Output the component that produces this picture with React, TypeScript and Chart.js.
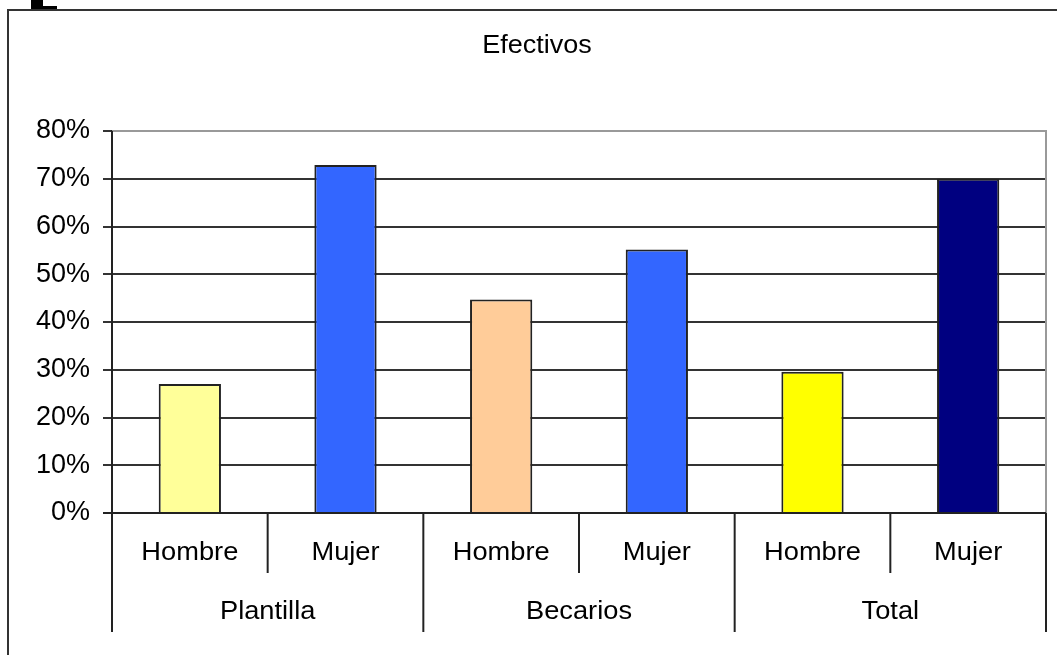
import React, { useEffect, useRef } from "react";
import { Chart, registerables } from "chart.js";

Chart.register(...registerables);

const title = "Efectivos";
const subCategories = ["Hombre", "Mujer", "Hombre", "Mujer", "Hombre", "Mujer"];
const groups = ["Plantilla", "Becarios", "Total"];
const values = [27.0, 72.9, 44.7, 55.2, 29.6, 70.0];
const barColors = ["#FFFF99", "#3366FF", "#FFCC99", "#3366FF", "#FFFF00", "#000080"];
const yTicks = [0, 10, 20, 30, 40, 50, 60, 70, 80];

const FONT = '"Liberation Sans", Arial, sans-serif';

export default function App() {
  const ref = useRef<HTMLCanvasElement | null>(null);

  useEffect(() => {
    document.body.style.margin = "0";
    const canvas = ref.current;
    if (!canvas) return;

    const decor = {
      id: "decor",
      afterDraw(chart: any) {
        const ctx = chart.ctx as CanvasRenderingContext2D;
        const area = chart.chartArea;
        const xs = chart.scales.x;
        ctx.save();
        // outer frame
        ctx.strokeStyle = "#333";
        ctx.lineWidth = 2;
        ctx.beginPath();
        ctx.moveTo(8, 655);
        ctx.lineTo(8, 10);
        ctx.lineTo(1057, 10);
        ctx.stroke();
        // cropped glyph at top-left
        ctx.fillStyle = "#000";
        ctx.fillRect(31, 0, 12, 9);
        ctx.fillRect(31, 6, 26, 3);
        // title
        ctx.fillStyle = "#000";
        ctx.font = "25px " + FONT;
        ctx.textAlign = "center";
        ctx.textBaseline = "middle";
        ctx.save();
        ctx.translate(537, 46);
        ctx.scale(1.08, 1);
        ctx.fillText(title, 0, 0);
        ctx.restore();
        // plot border top/right gray
        ctx.strokeStyle = "#999";
        ctx.lineWidth = 2;
        ctx.beginPath();
        ctx.moveTo(area.left, area.top);
        ctx.lineTo(area.right, area.top);
        ctx.lineTo(area.right, area.bottom);
        ctx.stroke();
        // separators
        const n = subCategories.length;
        const catW = (area.right - area.left) / n;
        ctx.strokeStyle = "#222";
        ctx.lineWidth = 2;
        for (let i = 0; i <= n; i++) {
          const x = i < n ? xs.getPixelForValue(i) - catW / 2 : xs.getPixelForValue(n - 1) + catW / 2;
          const yEnd = i % 2 === 0 ? area.bottom + 119 : area.bottom + 60;
          ctx.beginPath();
          ctx.moveTo(x, i === 0 ? area.top : area.bottom);
          ctx.lineTo(x, yEnd);
          ctx.stroke();
        }
        // axis line on bottom
        ctx.beginPath();
        ctx.moveTo(area.left - 9, area.bottom);
        ctx.lineTo(area.right, area.bottom);
        ctx.stroke();
        // labels
        ctx.fillStyle = "#000";
        ctx.font = "25px " + FONT;
        for (let i = 0; i < n; i++) {
          ctx.save();
          ctx.translate(xs.getPixelForValue(i), area.bottom + 40);
          ctx.scale(1.09, 1);
          ctx.fillText(subCategories[i], 0, 0);
          ctx.restore();
        }
        for (let g = 0; g < groups.length; g++) {
          const cx = (xs.getPixelForValue(g * 2) + xs.getPixelForValue(g * 2 + 1)) / 2;
          ctx.save();
          ctx.translate(cx, area.bottom + 99);
          ctx.scale(1.09, 1);
          ctx.fillText(groups[g], 0, 0);
          ctx.restore();
        }
        ctx.restore();
      },
    };

    const chart = new Chart(canvas, {
      type: "bar",
      data: {
        labels: subCategories,
        datasets: [
          {
            data: values,
            backgroundColor: barColors,
            borderColor: "#222",
            borderWidth: 2,
            barPercentage: 0.4,
            categoryPercentage: 1,
          },
        ],
      },
      options: {
        animation: false,
        responsive: false,
        devicePixelRatio: 1,
        layout: { padding: { top: 131, right: 11, left: 0, bottom: 0 } },
        plugins: {
          legend: { display: false },
          title: { display: false },
          tooltip: { enabled: false },
        },
        scales: {
          x: {
            ticks: { display: false },
            grid: { display: false },
            border: { display: false },
            afterFit: (s: any) => {
              s.height = 142;
            },
          },
          y: {
            min: 0,
            max: 80,
            afterBuildTicks: (s: any) => {
              s.ticks = yTicks.map((v) => ({ value: v }));
            },
            ticks: {
              callback: (v: any) => v + "%",
              font: { family: FONT, size: 27 },
              color: "#000",
              padding: 13,
            },
            grid: {
              color: (c: any) => (c.tick && c.tick.value === 80 ? "#999" : "#333"),
              lineWidth: 2,
              tickLength: 9,
              tickColor: "#333",
            },
            border: { display: true, color: "#222", width: 2 },
            afterFit: (s: any) => {
              s.width = 112;
            },
          },
        },
      },
      plugins: [decor],
    });

    return () => chart.destroy();
  }, []);

  return (
    <div style={{ position: "absolute", left: 0, top: 0, width: 1057, height: 655, background: "#fff" }}>
      <canvas ref={ref} width={1057} height={655} />
    </div>
  );
}
